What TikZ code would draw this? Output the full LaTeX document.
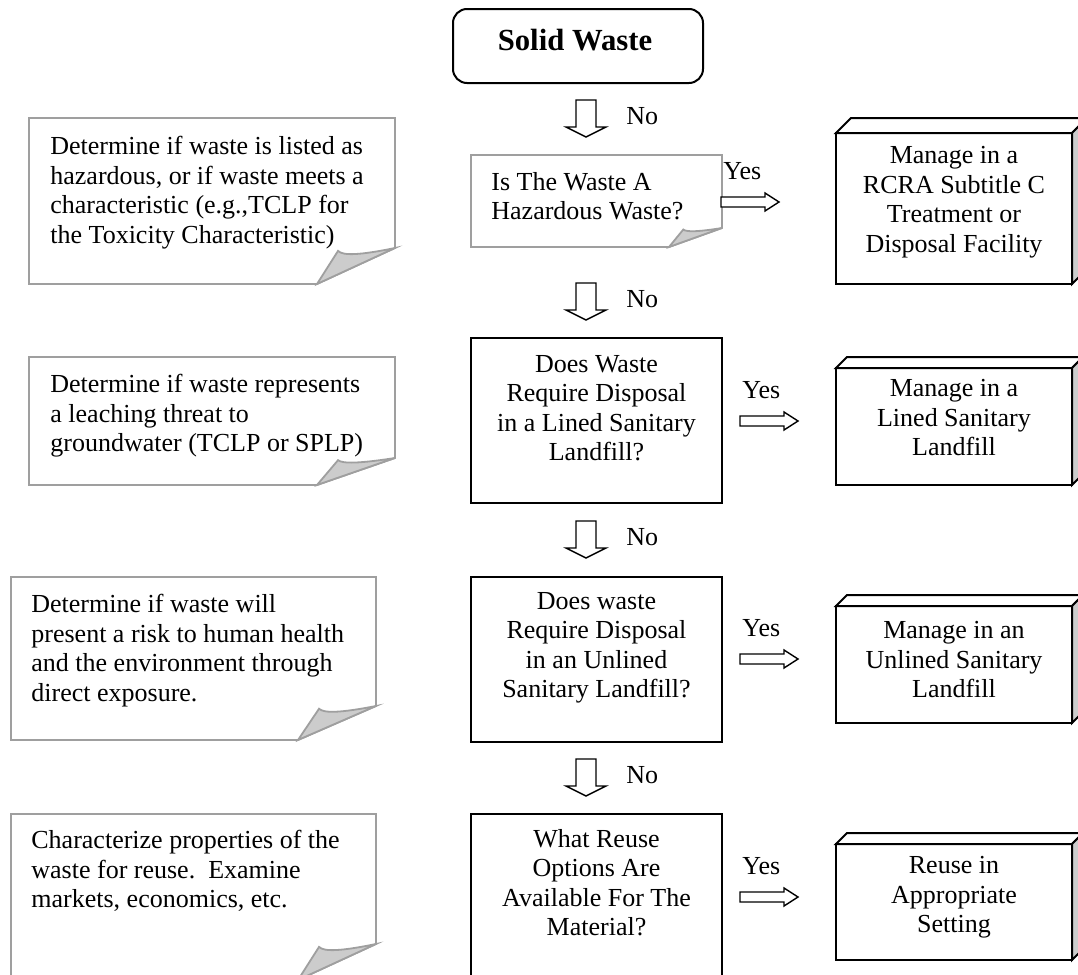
\documentclass[tikz,border=0pt]{standalone}
\usepackage{fontspec}
\setmainfont{Liberation Serif}
\tikzset{
  txt/.style={font=\fontsize{13}{14.75}\selectfont, inner sep=0pt},
  greyline/.style={draw=gray!75, line width=0.9pt},
  flap/.style={draw=gray!75, fill=gray!40, line width=0.9pt},
  boxline/.style={draw=black, line width=1pt},
  blockarr/.style={draw=black, fill=white, line width=0.7pt},
  downarr/.pic={\draw[blockarr] (-10,0) -- (10,0) -- (10,27) -- (20,27) -- (0,37) -- (-20,27) -- (-10,27) -- cycle;},
  rightarr/.pic={\draw[blockarr] (0,-5) -- (44,-5) -- (44,-9) -- (58,0) -- (44,9) -- (44,5) -- (0,5) -- cycle;}
}
% left, top, right, bottom, fold width, fold height
\newcommand{\foldbox}[6]{
  \draw[greyline, fill=white] (#1,#2) -- (#3,#2) -- (#3,#4-#6) -- (#3-#5,#4) -- (#1,#4) -- cycle;
  \draw[flap] (#3-#5,#4) -- (#3-0.73*#5,#4-0.92*#6) .. controls (#3-0.67*#5,#4-0.78*#6) and (#3-0.45*#5,#4-0.8*#6) .. (#3,#4-#6) -- cycle;
}
% left, top, right, bottom, depth
\newcommand{\cubebox}[5]{
  \draw[boxline, fill=white] (#1,#2) -- (#1+#5,#2-#5) -- (#3+#5,#2-#5) -- (#3,#2) -- cycle;
  \draw[boxline, fill=gray!40] (#3,#2) -- (#3+#5,#2-#5) -- (#3+#5,#4-#5) -- (#3,#4) -- cycle;
  \draw[boxline] (#1,#2) rectangle (#3,#4);
}
\begin{document}
\begin{tikzpicture}[x=0.5pt, y=-0.5pt]
\clip (0,0) rectangle (1078,975);

% start
\draw[boxline, rounded corners=7pt] (453,9) rectangle (703,83);
\node[font=\fontsize{15.35}{17}\selectfont\bfseries, inner sep=0pt, anchor=base] (solid) at (575,50) {Solid Waste};

% notes on the left
\foldbox{29}{118}{395}{284}{78}{36}
\foldbox{29}{357}{395}{485}{78}{27}
\foldbox{11}{577}{376}{740}{78}{34}
\foldbox{11}{814}{376}{980}{78}{36}
\node[txt, anchor=north west, align=left] (note1) at (50,136) {Determine if waste is listed as\\hazardous, or if waste meets a\\characteristic (e.g.,TCLP for\\the Toxicity Characteristic)};
\node[txt, anchor=north west, align=left] (note2) at (50,374) {Determine if waste represents\\a leaching threat to\\groundwater (TCLP or SPLP)};
\node[txt, anchor=north west, align=left] (note3) at (31,594) {Determine if waste will\\present a risk to human health\\and the environment through\\direct exposure.};
\node[txt, anchor=north west, align=left] (note4) at (31,830) {Characterize properties of the\\waste for reuse.\ \ Examine\\markets, economics, etc.};

% questions
\foldbox{471}{155}{722}{247}{53}{19}
\draw[boxline] (471,338) rectangle (722,503);
\draw[boxline] (471,577) rectangle (722,742);
\draw[boxline] (471,814) rectangle (722,990);
\node[txt, anchor=north west, align=left] (q1) at (491,172) {Is The Waste A\\Hazardous Waste?};
\node[txt, anchor=north, align=center] (q2) at (596.5,355) {Does Waste\\Require Disposal\\in a Lined Sanitary\\Landfill?};
\node[txt, anchor=north, align=center] (q3) at (596.5,592) {Does waste\\Require Disposal\\in an Unlined\\Sanitary Landfill?};
\node[txt, anchor=north, align=center] (q4) at (596.5,829) {What Reuse\\Options Are\\Available For The\\Material?};

% outcomes
\cubebox{836}{133}{1072}{284}{15}
\cubebox{836}{368}{1072}{485}{11}
\cubebox{836}{606}{1072}{723}{11}
\cubebox{836}{844}{1072}{960}{11}
\node[txt, anchor=north, align=center] (m1) at (954,146) {Manage in a\\RCRA Subtitle C\\Treatment or\\Disposal Facility};
\node[txt, anchor=north, align=center] (m2) at (954,379) {Manage in a\\Lined Sanitary\\Landfill};
\node[txt, anchor=north, align=center] (m3) at (954,621) {Manage in an\\Unlined Sanitary\\Landfill};
\node[txt, anchor=north, align=center] (m4) at (954,856) {Reuse in\\Appropriate\\Setting};

% No arrows
\foreach \t in {100,283,521,759} {
  \pic at (586,\t) {downarr};
  \node[txt, anchor=base west] (no\t) at (626,\t+24) {No};
}

% Yes arrows
\foreach \x/\y in {721/202,740/421,740/659,740/897} {
  \pic at (\x,\y) {rightarr};
  \node[txt, anchor=base west] (yes\y) at (\x+2,\y-23) {Yes};
}
\end{tikzpicture}
\end{document}
